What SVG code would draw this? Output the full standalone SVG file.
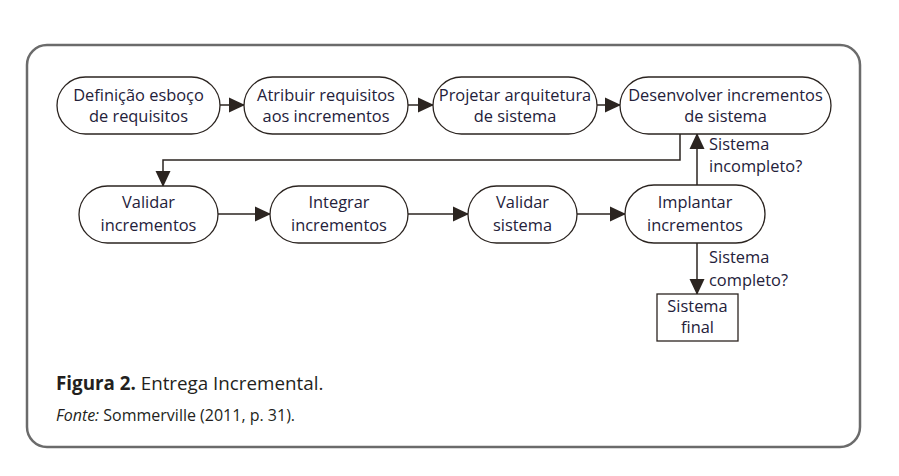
<svg xmlns="http://www.w3.org/2000/svg" width="899" height="476" viewBox="0 0 899 476">
<defs>
<marker id="arr" viewBox="0 0 16 16" refX="15" refY="8" markerWidth="16" markerHeight="16" markerUnits="userSpaceOnUse" orient="auto">
<path d="M0,0.5 L16,8 L0,15.5 z" fill="#2b2420"/>
</marker>
</defs>
<style>
.n{fill:#fff;stroke:#2b2420;stroke-width:1.3}
.t{font-family:"Open Sans","Noto Sans",sans-serif;font-size:16.4px;fill:#24213a;text-anchor:middle}
.l{font-family:"Open Sans","Noto Sans",sans-serif;font-size:16.4px;fill:#24213a}
.c{fill:none;stroke:#2b2420;stroke-width:1.5}
</style>
<rect width="899" height="476" fill="#fff"/>
<rect x="27" y="45" width="833" height="402" rx="20" fill="#fff" stroke="#6b6b6b" stroke-width="2.5"/>
<g id="connectors">
<path class="c" d="M220,105 L244,105" marker-end="url(#arr)"/>
<path class="c" d="M408,105 L433,105" marker-end="url(#arr)"/>
<path class="c" d="M597,105 L620,105" marker-end="url(#arr)"/>
<path class="c" d="M680,134 L680,160 L163,160 L163,186" marker-end="url(#arr)"/>
<path class="c" d="M218,214 L270,214" marker-end="url(#arr)"/>
<path class="c" d="M408,214 L468,214" marker-end="url(#arr)"/>
<path class="c" d="M577,214 L625,214" marker-end="url(#arr)"/>
<path class="c" d="M697,185 L697,134" marker-end="url(#arr)"/>
<path class="c" d="M697,243 L697,294" marker-end="url(#arr)"/>
<text class="l" x="709" y="150">Sistema</text>
<text class="l" x="709" y="172">incompleto?</text>
<text class="l" x="709" y="263">Sistema</text>
<text class="l" x="709" y="286">completo?</text>
</g>
<g id="n1"><rect class="n" x="57" y="77" width="163" height="57" rx="28.5"/><text class="t" x="138.5" y="101">Definição esboço</text><text class="t" x="138.5" y="122">de requisitos</text></g>
<g id="n2"><rect class="n" x="244" y="77" width="164" height="57" rx="28.5"/><text class="t" x="326" y="101">Atribuir requisitos</text><text class="t" x="326" y="122">aos incrementos</text></g>
<g id="n3"><rect class="n" x="433" y="77" width="164" height="57" rx="28.5"/><text class="t" x="515" y="101">Projetar arquitetura</text><text class="t" x="515" y="122">de sistema</text></g>
<g id="n4"><rect class="n" x="620" y="77" width="211" height="57" rx="28.5"/><text class="t" x="725.5" y="101">Desenvolver incrementos</text><text class="t" x="725.5" y="122">de sistema</text></g>
<g id="n5"><rect class="n" x="79" y="186" width="139" height="57" rx="28.5"/><text class="t" x="148.5" y="208">Validar</text><text class="t" x="148.5" y="231">incrementos</text></g>
<g id="n6"><rect class="n" x="270" y="186" width="138" height="57" rx="28.5"/><text class="t" x="339" y="208">Integrar</text><text class="t" x="339" y="231">incrementos</text></g>
<g id="n7"><rect class="n" x="468" y="186" width="109" height="57" rx="28.5"/><text class="t" x="522.5" y="208">Validar</text><text class="t" x="522.5" y="231">sistema</text></g>
<g id="n8"><rect class="n" x="625" y="185" width="140" height="58" rx="29"/><text class="t" x="695" y="208">Implantar</text><text class="t" x="695" y="231">incrementos</text></g>
<g id="n9"><rect class="n" x="657" y="294" width="81" height="47"/><text class="t" x="697.5" y="312">Sistema</text><text class="t" x="697.5" y="333">final</text></g>
<text x="56" y="390" font-family="Open Sans, Noto Sans, sans-serif" font-size="18.8" fill="#231f20"><tspan font-weight="bold">Figura 2.</tspan> Entrega Incremental.</text>
<text x="56" y="421" font-family="Open Sans, Noto Sans, sans-serif" font-size="16" fill="#231f20"><tspan font-style="italic">Fonte:</tspan> Sommerville (2011, p. 31).</text>
</svg>
